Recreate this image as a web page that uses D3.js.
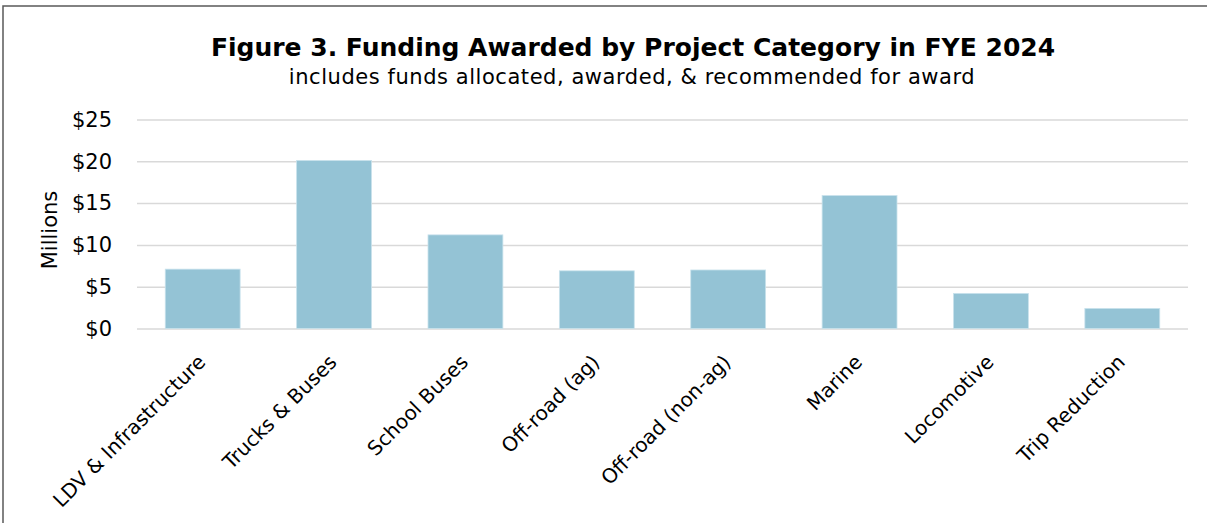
<html>
<head>
<meta charset="utf-8">
<style>
    body { margin: 0; background: white; font-family: "DejaVu Sans", sans-serif; }
</style>
<script src="https://d3js.org/d3.v7.min.js"></script>
</head>
<body>
<svg id="chart"></svg>
<script>
    // data (millions of dollars)
    const categories = ["LDV & Infrastructure", "Trucks & Buses", "School Buses", "Off-road (ag)",
        "Off-road (non-ag)", "Marine", "Locomotive", "Trip Reduction"]
    const funding = [7.1, 20.1, 11.2, 6.9, 7.0, 15.9, 4.2, 2.4]
    const yTicks = [0, 5, 10, 15, 20, 25]

    const titleText = "Figure 3. Funding Awarded by Project Category in FYE 2024"
    const subtitleText = "includes funds allocated, awarded, & recommended for award"

    const width = 1207, height = 523
    const margin = { top: 119.5, right: 19, bottom: 194.5, left: 137 }
    const bodyWidth = width - margin.left - margin.right
    const bodyHeight = height - margin.top - margin.bottom

    const svg = d3.select("#chart").attr("width", width).attr("height", height)

    // outer frame
    svg.append("rect")
        .attr("x", 3).attr("y", 6)
        .attr("width", width + 10).attr("height", height + 10)
        .attr("fill", "none").attr("stroke", "#595959").attr("stroke-width", 1.5)

    svg.append("text")
        .attr("x", 633).attr("y", 56)
        .attr("text-anchor", "middle")
        .attr("font-weight", "bold").attr("font-size", 25)
        .attr("fill", "#000")
        .text(titleText)

    svg.append("text")
        .attr("x", 632).attr("y", 84)
        .attr("text-anchor", "middle")
        .attr("font-size", 21).attr("letter-spacing", 0.55)
        .attr("fill", "#000")
        .text(subtitleText)

    const x = d3.scaleBand().domain(categories).range([0, bodyWidth]).paddingInner(0.43).paddingOuter(0.215)
    const y = d3.scaleLinear().domain([0, 25]).range([bodyHeight, 0])

    const body = svg.append("g").attr("transform", `translate(${margin.left},${margin.top})`)

    // gridlines
    body.append("g")
        .call(d3.axisLeft(y).tickValues(yTicks).tickSize(-bodyWidth).tickFormat(""))
        .call(g => g.select(".domain").remove())
        .call(g => g.selectAll("line").attr("stroke", "#d9d9d9").attr("stroke-width", 1.5))

    body.selectAll(".bar")
        .data(funding)
        .enter().append("rect")
        .attr("class", "bar")
        .attr("x", (d, i) => x(categories[i]))
        .attr("y", d => y(d))
        .attr("width", x.bandwidth())
        .attr("height", d => y(0) - y(d))
        .attr("fill", "#94c3d5")
        .attr("stroke", "#c9e2ec").attr("stroke-width", 0.8)

    // y axis labels
    body.append("g")
        .call(d3.axisLeft(y).tickValues(yTicks).tickSize(0).tickPadding(25).tickFormat(d => "$" + d))
        .call(g => g.select(".domain").remove())
        .call(g => g.selectAll("text").attr("font-size", 21).attr("fill", "#000")
            .attr("font-family", "DejaVu Sans, sans-serif"))

    // x axis labels, rotated
    body.append("g")
        .attr("transform", `translate(0,${bodyHeight})`)
        .call(d3.axisBottom(x).tickSize(0).tickPadding(0))
        .call(g => g.select(".domain").remove())
        .call(g => g.selectAll("text")
            .attr("font-size", 20).attr("fill", "#000")
            .attr("font-family", "DejaVu Sans, sans-serif")
            .attr("text-anchor", "end")
            .attr("dy", "0.7em")
            .attr("transform", "translate(-6,25) rotate(-45)"))

    svg.append("text")
        .attr("transform", `translate(57,230) rotate(-90)`)
        .attr("text-anchor", "middle")
        .attr("font-size", 21)
        .attr("fill", "#000")
        .text("Millions")
</script>
</body>
</html>
